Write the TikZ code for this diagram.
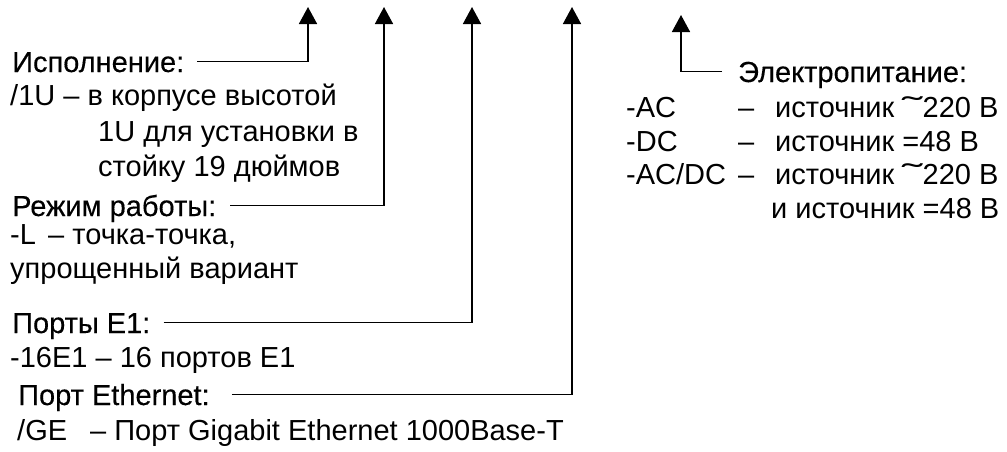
\documentclass[tikz,border=0pt]{standalone}
\usepackage{fontspec}
\setmainfont{Liberation Sans}
\newfontfamily\headfont{Liberation Sans}[FakeBold=0.3]
\usetikzlibrary{positioning, arrows.meta}
\newcommand{\actilde}{\scalebox{2.1}[1]{˜}}

\begin{document}
\begin{tikzpicture}[x=1pt, y=-1pt, font=\fontsize{29}{34}\selectfont,
      conn/.style={line width=1.6pt, -{Triangle[width=18pt, length=17pt]}},
      head/.style={anchor=base west, inner sep=0pt, font=\fontsize{29}{34}\selectfont\headfont},
      txt/.style={anchor=base west, inner sep=0pt}]
    \useasboundingbox (0,0) rectangle (1007,451);
    % arrow tips
    \coordinate (tip1) at (308,7);
    \coordinate (tip2) at (384,7);
    \coordinate (tip3) at (472,7);
    \coordinate (tip4) at (572,7);
    \coordinate (tip5) at (681,15);
    % left column
    \node[head] (hIsp) at (12,72) {Исполнение:};
    \node[txt] (isp1) at (10,105) {/1U – в корпусе высотой};
    \node[txt] (isp2) at (98,141) {1U для установки в};
    \node[txt] (isp3) at (98,176) {стойку 19 дюймов};
    \node[head] (hMode) at (12,216) {Режим работы:};
    \node[txt] (mode1) at (10,244) {\makebox[38pt][l]{-L}– точка-точка,};
    \node[txt] (mode2) at (10,278) {упрощенный вариант};
    \node[head] (hE1) at (12,333) {Порты E1:};
    \node[txt] (e1) at (10,367) {-16E1 – 16 портов E1};
    \node[head] (hEth) at (18,405) {Порт Ethernet:};
    \node[txt] (eth) at (17,440) {\makebox[73pt][l]{/GE}– Порт Gigabit Ethernet 1000Base-T};
    % right column
    \node[head] (hPow) at (738,82) {Электропитание:};
    \node[txt] (pAC) at (626,117) {-AC};
    \node[txt] (dAC) at (738,117) {–};
    \node[txt] (sAC) at (775,117) {источник \actilde220 В};
    \node[txt] (pDC) at (626,151) {-DC};
    \node[txt] (dDC) at (738,151) {–};
    \node[txt] (sDC) at (775,151) {источник =48 В};
    \node[txt] (pACDC) at (626,184) {-AC/DC};
    \node[txt] (dACDC) at (738,184) {–};
    \node[txt] (sACDC) at (775,184) {источник \actilde220 В};
    \node[txt] (sACDC2) at (771,218) {и источник =48 В};
    % connectors
    \draw[conn] ([xshift=13pt, yshift=10.4pt]hIsp.base east) -| (tip1);
    \draw[conn] ([xshift=14pt, yshift=10.4pt]hMode.base east) -| (tip2);
    \draw[conn] ([xshift=13pt, yshift=10.4pt]hE1.base east) -| (tip3);
    \draw[conn] ([xshift=22pt, yshift=10.4pt]hEth.base east) -| (tip4);
    \draw[conn] ([xshift=-16pt, yshift=10.4pt]hPow.base west) -| (tip5);
  \end{tikzpicture}
\end{document}
